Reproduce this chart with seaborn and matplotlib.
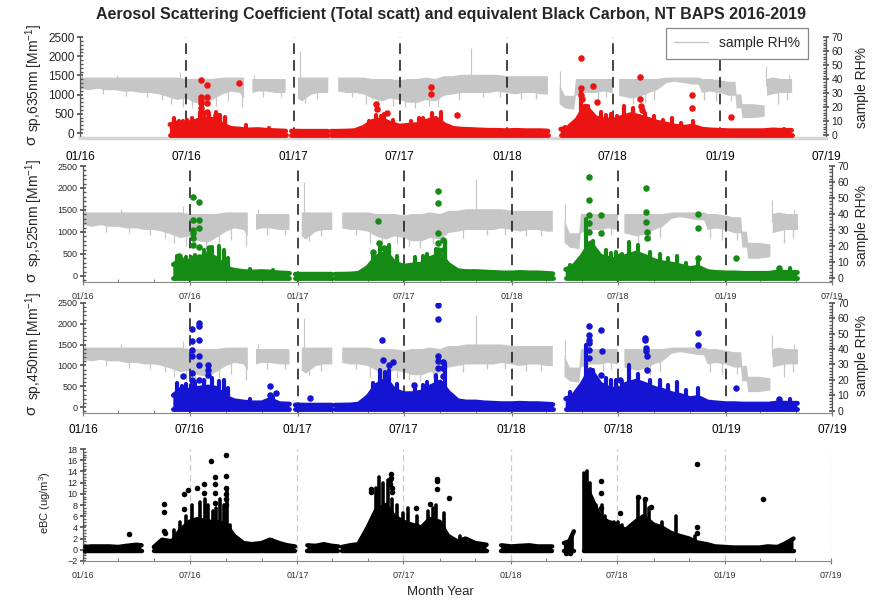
import numpy as np
import pandas as pd
import matplotlib
matplotlib.use('Agg')
import matplotlib.pyplot as plt
import matplotlib.dates as mdates
from matplotlib.ticker import MultipleLocator
from matplotlib.lines import Line2D
import seaborn as sns

sns.set_theme(style='ticks')
plt.rcParams['font.family'] = ['Liberation Sans', 'DejaVu Sans']
plt.rcParams['mathtext.fontset'] = 'custom'
plt.rcParams['mathtext.rm'] = 'Liberation Sans'
plt.rcParams['mathtext.it'] = 'Liberation Sans:italic'
plt.rcParams['mathtext.bf'] = 'Liberation Sans:bold'

nan = np.nan

# ---------------- sample RH% (same series behind the three scattering panels)
rh_dates = [
    '2016-01-03', '2016-01-15', '2016-02-01', '2016-02-15', '2016-03-01', '2016-03-15', '2016-04-01',
    '2016-04-15', '2016-05-01', '2016-05-15', '2016-06-01', '2016-06-15', '2016-07-01', '2016-07-15',
    '2016-08-01', '2016-08-15', '2016-09-01', '2016-09-15', '2016-10-01', '2016-10-08',
    '2016-10-15',
    '2016-10-22', '2016-11-01', '2016-11-15', '2016-12-01', '2016-12-18',
    '2016-12-28',
    '2017-01-08', '2017-01-15', '2017-02-01', '2017-02-15', '2017-03-01',
    '2017-03-10',
    '2017-03-18', '2017-04-01', '2017-04-15', '2017-05-01', '2017-05-15', '2017-06-01', '2017-06-15',
    '2017-07-01', '2017-07-15', '2017-08-01', '2017-08-15', '2017-09-01', '2017-09-15', '2017-10-01',
    '2017-10-15', '2017-11-01', '2017-11-15', '2017-12-01', '2017-12-15', '2018-01-01', '2018-01-15',
    '2018-02-01', '2018-02-15', '2018-03-01', '2018-03-12',
    '2018-03-22',
    '2018-04-01', '2018-04-10', '2018-04-26', '2018-04-29', '2018-05-15', '2018-06-01', '2018-06-15',
    '2018-07-01',
    '2018-07-06',
    '2018-07-12', '2018-08-01', '2018-08-15', '2018-09-01', '2018-09-15', '2018-10-01', '2018-10-15',
    '2018-11-01', '2018-11-15', '2018-11-25', '2018-12-01', '2018-12-15', '2019-01-01', '2019-01-15',
    '2019-01-27', '2019-01-29', '2019-02-06', '2019-02-08', '2019-02-25', '2019-03-18',
    '2019-03-20',
    '2019-03-22', '2019-04-01', '2019-04-15', '2019-05-04',
]
rh_hi = [41, 41, 41, 41, 41, 41, 41, 41, 41, 41, 41, 41, 40, 40, 40, 40, 41, 41, 41, 41,
         nan,
         40, 40, 40, 40, 40,
         nan,
         41, 41, 41, 41, 41,
         nan,
         41, 41, 41, 41, 40, 40, 40, 39, 40, 40, 41, 40, 42, 42, 43, 43, 43, 43, 43, 42, 42, 42, 42, 42, 42,
         nan,
         36, 28, 28, 40, 40, 40, 40, 40,
         nan,
         40, 40, 40, 40, 40, 41, 41, 41, 41, 41, 40, 40, 39, 38, 38, 29, 29, 22, 22, 21,
         nan,
         40, 41, 40, 40]
rh_lo = [33, 32, 33, 32, 32, 31, 31, 30, 30, 29, 27, 25, 26, 23, 22, 25, 29, 31, 30, 26,
         nan,
         30, 31, 31, 30, 30,
         nan,
         26, 24, 29, 30, 30,
         nan,
         31, 30, 30, 29, 26, 24, 26, 25, 23, 23, 25, 24, 28, 29, 30, 30, 30, 30, 31, 30, 29, 30, 30, 29, 29,
         nan,
         22, 19, 18, 28, 30, 30, 31, 30,
         nan,
         28, 26, 27, 30, 32, 37, 38, 37, 36, 36, 30, 31, 30, 28, 28, 19, 19, 12, 12, 13,
         nan,
         28, 29, 30, 30]
rh_spike_dates = ['2016-01-04', '2016-03-05', '2016-06-20', '2016-10-25', '2017-01-12', '2017-11-01',
                  '2018-04-02', '2019-03-20', '2019-04-28']
rh_spike_vals = [44, 43, 45, 43, 60, 62, 46, 49, 43]
rh_dip_dates = ['2016-02-10', '2016-03-20', '2016-04-25', '2016-05-20', '2016-06-05', '2016-06-25',
                '2016-07-10', '2016-07-28', '2016-08-20', '2016-09-10', '2016-10-05', '2016-11-10',
                '2016-12-10', '2017-01-20', '2017-02-10', '2017-04-10', '2017-05-05', '2017-05-25',
                '2017-06-20', '2017-07-10', '2017-07-28', '2017-08-20', '2017-09-05', '2017-10-10',
                '2017-11-20', '2017-12-20', '2018-01-25', '2018-02-20', '2018-05-10', '2018-06-05',
                '2018-06-20', '2018-08-05', '2018-08-25', '2018-09-10', '2018-12-05', '2018-12-25',
                '2019-01-20', '2019-04-10', '2019-04-25']
rh_dip_vals = [29, 28, 27, 25, 22, 20, 19, 18, 21, 24, 20, 27, 27, 23, 26, 27, 22, 20, 21, 20, 19, 21,
               20, 25, 27, 27, 26, 26, 24, 26, 27, 22, 23, 25, 25, 24, 24, 22, 25]

# ---------------- aerosol scattering (dense part: envelope of the point cloud)
scat_dates = [
    '2016-06-03', '2016-06-15', '2016-07-01', '2016-07-15', '2016-08-01', '2016-08-15', '2016-09-01',
    '2016-09-15', '2016-10-01', '2016-10-15', '2016-11-01', '2016-11-15', '2016-12-01', '2016-12-18',
    '2016-12-23',
    '2016-12-28', '2017-01-15', '2017-02-01', '2017-02-15', '2017-02-28',
    '2017-03-03',
    '2017-03-06', '2017-03-15', '2017-04-01', '2017-04-15', '2017-05-01', '2017-05-15', '2017-06-01',
    '2017-06-15', '2017-07-01', '2017-07-15', '2017-08-01', '2017-08-15', '2017-09-01', '2017-09-15',
    '2017-10-01', '2017-10-15', '2017-11-01', '2017-11-15', '2017-12-01', '2017-12-15', '2018-01-01',
    '2018-01-15', '2018-02-01', '2018-02-15', '2018-03-01', '2018-03-12',
    '2018-03-22',
    '2018-04-03', '2018-04-15', '2018-05-01', '2018-05-15', '2018-06-01', '2018-06-15', '2018-07-01',
    '2018-07-15', '2018-08-01', '2018-08-15', '2018-09-01', '2018-09-15', '2018-10-01', '2018-10-15',
    '2018-11-01', '2018-11-15', '2018-12-01', '2018-12-15', '2019-01-01', '2019-01-15', '2019-02-01',
    '2019-02-15', '2019-03-01', '2019-03-15', '2019-04-01', '2019-04-15', '2019-05-03',
]
red_top = [220, 260, 250, 300, 380, 350, 220, 120, 100, 80, 90, 70, 60, 50,
           nan,
           50, 45, 45, 45, 45,
           nan,
           45, 45, 50, 60, 150, 300, 350, 250, 180, 200, 220, 300, 380, 220, 120, 100, 90, 80, 70, 70,
           60, 70, 60, 60, 60, 50,
           nan,
           100, 130, 350, 700, 400, 350, 330, 400, 480, 430, 350, 280, 230, 180, 150, 180, 100, 80, 70,
           60, 60, 60, 60, 60, 80, 70, 70]
green_top = [260, 350, 330, 400, 480, 400, 180, 130, 100, 90, 100, 90, 70, 60,
             nan,
             40, 40, 40, 40, 40,
             nan,
             40, 40, 45, 60, 200, 430, 520, 300, 220, 250, 270, 400, 480, 260, 120, 100, 100, 90, 80, 70,
             70, 80, 70, 70, 60, 50,
             nan,
             150, 200, 450, 750, 450, 400, 350, 450, 520, 450, 350, 300, 270, 230, 170, 200, 100, 80, 70,
             70, 60, 60, 60, 60, 90, 80, 80]
blue_top = [280, 400, 400, 450, 480, 450, 230, 150, 120, 100, 100, 180, 80, 70,
            nan,
            50, 45, 45, 45, 45,
            nan,
            45, 45, 50, 70, 250, 520, 650, 400, 320, 320, 360, 480, 600, 350, 150, 120, 120, 100, 90, 80,
            80, 90, 80, 80, 70, 60,
            nan,
            200, 250, 550, 900, 550, 450, 400, 550, 620, 550, 450, 400, 320, 280, 200, 230, 120, 100, 80,
            80, 70, 70, 70, 70, 100, 90, 90]

# narrow peaks within the dense cloud
spike_dates = ['2016-06-10', '2016-06-18', '2016-06-25', '2016-07-03', '2016-07-10', '2016-07-25',
               '2016-08-08', '2016-08-20', '2016-08-28', '2016-09-05', '2016-10-12', '2016-11-20',
               '2017-05-10', '2017-05-22', '2017-05-30', '2017-06-05', '2017-06-20', '2017-07-20',
               '2017-08-03', '2017-08-10', '2017-08-25', '2017-09-10', '2018-04-10', '2018-05-08',
               '2018-05-20', '2018-06-10', '2018-06-20', '2018-06-28', '2018-07-08', '2018-07-20',
               '2018-08-05', '2018-08-25', '2018-09-10', '2018-09-25', '2018-10-10', '2018-10-25',
               '2018-11-15', '2019-04-20']
red_spikes = [380, 300, 320, 350, 400, 550, 500, 560, 480, 420, 200, 120,
              300, 480, 450, 500, 350, 300, 380, 400, 520, 540, 150, 1100,
              700, 550, 480, 500, 450, 700, 650, 520, 450, 350, 400, 260,
              300, 110]
green_spikes = [450, 380, 420, 420, 480, 600, 650, 680, 600, 400, 150, 130,
                450, 650, 580, 700, 450, 420, 450, 500, 620, 800, 250, 1300,
                800, 600, 520, 550, 500, 780, 700, 550, 500, 400, 450, 300,
                350, 170]
blue_spikes = [580, 500, 560, 520, 600, 650, 700, 620, 640, 450, 200, 250,
               580, 880, 850, 900, 550, 540, 540, 600, 780, 1050, 350, 1500,
               900, 700, 650, 650, 600, 1000, 800, 650, 640, 520, 600, 400,
               450, 200]

# isolated high points
red_out_dates = ['2016-07-26', '2016-07-26', '2016-07-26', '2016-07-26', '2016-07-26', '2016-08-05',
                 '2016-08-05', '2016-08-05', '2016-08-05', '2016-07-29', '2016-08-20', '2016-08-20',
                 '2016-09-30', '2017-05-21', '2017-05-23', '2017-06-10', '2017-08-24', '2017-08-24',
                 '2017-10-08', '2018-05-08', '2018-05-08', '2018-05-08', '2018-05-09', '2018-05-09',
                 '2018-05-28', '2018-06-04', '2018-08-17', '2018-08-17', '2018-08-19', '2018-08-20',
                 '2018-11-14', '2018-11-14', '2019-01-20']
red_out_vals = [1370, 950, 860, 780, 650, 1260, 950, 780, 560, 510, 470, 420,
                1290, 760, 620, 510, 1200, 1020,
                470, 1965, 1170, 1000, 880, 690,
                1220, 820, 1455, 890, 705, 600,
                1000, 645, 405]
green_out_dates = ['2016-06-13', '2016-07-07', '2016-07-07', '2016-07-07', '2016-07-07', '2016-07-07',
                   '2016-07-07', '2016-07-17', '2016-07-17', '2016-07-17', '2016-07-17', '2016-07-16',
                   '2016-08-03', '2016-08-03', '2017-05-18', '2017-05-20', '2017-05-10', '2017-05-28',
                   '2017-08-28', '2017-08-28', '2017-08-28', '2017-08-28', '2017-08-28', '2017-09-05',
                   '2017-09-05', '2018-05-12', '2018-05-12', '2018-05-12', '2018-05-12', '2018-05-12',
                   '2018-06-03', '2018-06-03', '2018-06-02', '2018-07-05', '2018-08-18', '2018-08-18',
                   '2018-08-18', '2018-08-19', '2018-08-20', '2018-11-15', '2018-11-15', '2018-11-15',
                   '2019-01-19', '2019-04-02']
green_out_vals = [455, 1800, 1270, 1045, 970, 855,
                  705, 1690, 1270, 1080, 667, 440,
                  630, 550, 1250, 760, 550, 630,
                  1930, 1665, 985, 740, 590, 820,
                  590, 2260, 1730, 1390, 1210, 1010,
                  1390, 970, 385, 460, 1990, 1460,
                  1235, 1010, 855, 1400, 1080, 400,
                  400, 175]
blue_out_dates = ['2016-06-15', '2016-06-20', '2016-07-05', '2016-07-05', '2016-07-05', '2016-07-05',
                  '2016-07-05', '2016-07-05', '2016-07-16', '2016-07-16', '2016-07-16', '2016-07-16',
                  '2016-07-16', '2016-07-16', '2016-08-01', '2016-08-01', '2016-08-01', '2016-11-15',
                  '2016-11-15', '2016-11-25', '2017-01-22', '2017-05-25', '2017-05-27', '2017-06-05',
                  '2017-06-12', '2017-07-18', '2017-08-28', '2017-08-28', '2017-08-28', '2017-08-28',
                  '2017-08-28', '2017-09-06', '2017-09-06', '2017-09-06', '2018-05-12', '2018-05-12',
                  '2018-05-12', '2018-05-13', '2018-05-13', '2018-05-13', '2018-05-14', '2018-06-03',
                  '2018-06-04', '2018-06-02', '2018-07-05', '2018-08-17', '2018-08-17', '2018-08-18',
                  '2018-08-18', '2018-08-19', '2018-08-19', '2018-11-14', '2018-11-14', '2019-01-19',
                  '2019-04-02']
blue_out_vals = [420, 740, 1880, 1580, 1380, 1220,
                 820, 655, 2020, 1940, 1620, 1220,
                 1020, 655, 1020, 900, 780, 500,
                 300, 340, 215, 1600, 1130, 1000,
                 1080, 520, 2440, 2115, 1220, 1100,
                 940, 1075, 940, 740, 1940, 1740,
                 1620, 1540, 1380, 1180, 860, 1840,
                 1340, 780, 640, 1660, 1620, 1420,
                 1340, 1220, 900, 1780, 1500, 450,
                 200]

# ---------------- equivalent black carbon
ebc_dates = [
    '2016-01-05', '2016-01-15', '2016-02-01', '2016-02-15', '2016-03-01', '2016-03-15', '2016-04-01', '2016-04-10',
    '2016-04-20',
    '2016-05-01', '2016-05-15', '2016-06-01', '2016-06-15', '2016-07-01', '2016-07-15', '2016-08-01',
    '2016-08-15', '2016-09-01', '2016-09-15', '2016-10-01', '2016-10-15', '2016-11-01', '2016-11-15',
    '2016-12-01', '2016-12-15', '2016-12-28',
    '2017-01-08',
    '2017-01-18', '2017-02-01', '2017-02-15', '2017-03-01', '2017-03-12',
    '2017-03-15',
    '2017-03-18', '2017-04-01', '2017-04-15', '2017-05-01', '2017-05-15', '2017-06-01', '2017-06-15',
    '2017-07-01', '2017-07-15', '2017-08-01', '2017-08-15', '2017-09-01', '2017-09-15', '2017-10-01',
    '2017-10-15', '2017-11-01', '2017-11-20',
    '2017-12-01',
    '2017-12-15', '2018-01-01', '2018-01-15', '2018-02-01', '2018-02-15', '2018-03-01', '2018-03-12',
    '2018-03-20',
    '2018-04-01', '2018-04-10', '2018-04-18',
    '2018-04-28',
    '2018-05-06', '2018-05-15', '2018-06-01', '2018-06-15', '2018-07-01', '2018-07-15', '2018-08-01',
    '2018-08-15', '2018-09-01', '2018-09-15', '2018-10-01', '2018-10-15', '2018-11-01', '2018-11-15',
    '2018-12-01', '2018-12-15', '2019-01-01', '2019-01-15', '2019-02-01', '2019-02-15', '2019-03-01',
    '2019-03-15', '2019-04-01', '2019-04-15', '2019-04-28',
]
ebc_top = [0.5, 0.6, 0.6, 0.6, 0.5, 0.7, 0.9, 0.8,
           nan,
           0.5, 1.8, 1.5, 3.5, 5, 5.5, 5, 5, 4.5, 2.5, 1.2, 1.0, 1.2, 1.8, 1.2, 0.8, 0.6,
           nan,
           0.8, 0.7, 1.0, 0.7, 0.6,
           nan,
           0.5, 0.8, 1.0, 4, 7, 8, 6, 5, 4.5, 4, 5.5, 5, 2.5, 1.5, 2.0, 1.2, 0.9,
           nan,
           0.8, 0.6, 0.7, 0.8, 0.6, 0.6, 0.6,
           nan,
           1.2, 1.5, 3.3,
           nan,
           12, 10, 6, 5, 4.5, 3.5, 5, 6, 4.5, 4, 3, 2.5, 2, 1.3, 1.0, 0.6, 0.5, 0.4, 0.4, 0.4, 0.4, 0.6,
           0.5, 1.2, 2.0]
ebc_spike_dates = ['2016-06-05', '2016-06-15', '2016-06-25', '2016-07-05', '2016-07-18', '2016-07-28',
                   '2016-08-01', '2016-08-10', '2016-08-15', '2016-08-22', '2016-08-28', '2016-09-03',
                   '2016-09-08', '2016-09-15', '2016-11-18', '2017-05-10', '2017-05-15', '2017-05-20',
                   '2017-05-28', '2017-06-05', '2017-06-12', '2017-06-20', '2017-07-01', '2017-07-08',
                   '2017-07-25', '2017-08-12', '2017-08-20', '2017-08-25', '2017-09-08', '2017-10-05',
                   '2018-05-06', '2018-05-10', '2018-05-16', '2018-05-25', '2018-06-05', '2018-06-10',
                   '2018-06-25', '2018-07-03', '2018-07-10', '2018-08-05', '2018-08-18', '2018-08-25',
                   '2018-09-15', '2018-10-10', '2018-11-10']
ebc_spike_vals = [3.5, 5, 6, 8, 8.5, 9,
                  8, 7, 7.5, 9, 8, 11,
                  4.5, 2.7, 1.8, 6, 11, 13,
                  12, 12.5, 9, 8, 6.5, 7.4,
                  6, 7, 7.5, 8, 6.5, 2.5,
                  13.8, 14, 12, 8, 8, 6,
                  5, 5, 4.5, 9.5, 9, 7.5,
                  5, 6, 2.5]
ebc_out_dates = ['2016-03-19', '2016-05-19', '2016-05-19', '2016-05-19', '2016-05-20', '2016-06-22',
                 '2016-06-22', '2016-06-28', '2016-07-13', '2016-07-25', '2016-07-25', '2016-08-07',
                 '2016-08-13', '2016-08-13', '2016-08-13', '2016-08-13', '2016-09-01', '2016-09-01',
                 '2016-09-01', '2016-09-01', '2016-09-01', '2016-09-01', '2017-05-07', '2017-05-07',
                 '2017-06-10', '2017-06-10', '2017-06-08', '2017-06-08', '2017-06-12', '2017-06-12',
                 '2017-07-22', '2017-08-16', '2017-08-28', '2017-08-28', '2017-08-28', '2017-09-16',
                 '2018-04-05', '2018-04-12', '2018-06-03', '2018-06-03', '2018-06-03', '2018-07-05',
                 '2018-08-06', '2018-08-17', '2018-08-27', '2018-11-14', '2018-11-14', '2018-11-14',
                 '2019-03-07']
ebc_out_vals = [2.9, 8.1, 6.8, 3.3, 3.0, 10.0,
                7.3, 10.7, 11.0, 11.8, 10.2, 15.8,
                13.0, 11.7, 10.2, 8.3, 16.9, 13.1,
                11.0, 10.0, 9.0, 8.0, 10.9, 10.3,
                13.5, 12.8, 12.5, 11.8, 11.0, 10.4,
                7.4, 8.2, 12.6, 12.2, 10.9, 9.3,
                -0.5, -0.6, 12.3, 10.2, 7.5, 6.5,
                9.5, 9.0, 7.6, 15.3, 4.0, 3.0,
                9.1]

# ---------------- labels
title = 'Aerosol Scattering Coefficient (Total scatt) and equivalent Black Carbon, NT BAPS 2016-2019'
guide_dates = ['2016-07-01', '2017-01-01', '2017-07-01', '2018-01-01', '2018-07-01', '2019-01-01']
x_range = ['2016-01-01', '2019-07-01']
wavelengths = ['635nm', '525nm', '450nm']

GRAY = '#c6c6c6'
RED, GREEN, BLUE = '#ec1313', '#158a15', '#1414d2'

W, H = 877, 600
fig = plt.figure(figsize=(W / 100, H / 100), dpi=100)


def add_ax(l, t, r, b):
    return fig.add_axes([l / W, 1 - b / H, (r - l) / W, (b - t) / H])


def style_x(ax, fs, color, pad, ticklen):
    ax.set_xlim(pd.to_datetime(x_range))
    ax.xaxis.set_major_locator(mdates.MonthLocator(bymonth=[1, 7]))
    ax.xaxis.set_major_formatter(mdates.DateFormatter('%m/%y'))
    ax.xaxis.set_minor_locator(mdates.MonthLocator(bymonth=[3, 5, 9, 11]))
    ax.tick_params(axis='x', which='major', labelsize=fs, labelcolor=color, pad=pad,
                   length=ticklen, color='#777777', direction='inout', width=0.8)
    ax.tick_params(axis='x', which='minor', length=ticklen * 0.6, color='#777777', direction='in', width=0.7)


def scat_panel(rect, top, spikes, od, ov, color, ylim, rhlim, xfs, xcol, xpad, yfs, ticklen, first=False):
    ax = add_ax(*rect)
    ax2 = ax.twinx()
    ax.set_zorder(ax2.get_zorder() + 1)
    ax.patch.set_visible(False)
    # RH background
    rt = pd.to_datetime(rh_dates)
    ax2.fill_between(rt, rh_lo, rh_hi, color=GRAY, lw=0, zorder=1)
    ax2.vlines(pd.to_datetime(rh_spike_dates), 35, rh_spike_vals, colors=GRAY, lw=0.8, zorder=1)
    ax2.vlines(pd.to_datetime(rh_dip_dates), rh_dip_vals, 35, colors=GRAY, lw=0.9, zorder=1)
    for d in pd.to_datetime(guide_dates):
        ax2.axvline(d, color='#111111', ls=(0, (7, 4)), lw=1.1, zorder=2)
    ax2.set_ylim(rhlim)
    ax2.set_yticks(range(0, 71, 10))
    ax2.yaxis.set_minor_locator(MultipleLocator(2))
    ax2.tick_params(axis='y', which='major', labelsize=7.5, length=4, direction='inout', color='#555555', pad=2)
    ax2.tick_params(axis='y', which='minor', length=2.5, direction='in', color='#555555')
    # scattering coefficient
    t = pd.to_datetime(scat_dates)
    floor = np.where(np.isnan(np.array(top, dtype=float)), np.nan, -50.0)
    ax.fill_between(t, floor, top, color=color, lw=0, zorder=3)
    ax.plot(t, top, color=color, lw=3.5, solid_joinstyle='round', solid_capstyle='round', zorder=3)
    ax.plot(t, floor, color=color, lw=3.5, solid_capstyle='round', zorder=3)
    ax.vlines(pd.to_datetime(spike_dates), -50, spikes, colors=color, lw=3, capstyle='round', zorder=3)
    sns.scatterplot(x=pd.to_datetime(od), y=ov, ax=ax, color=color, s=22, linewidth=0,
                    legend=False, zorder=4)
    ax.set_ylim(ylim)
    ax.set_yticks(range(0, 2501, 500))
    ax.yaxis.set_minor_locator(MultipleLocator(100))
    ax.tick_params(axis='y', which='major', labelsize=yfs, length=4, direction='inout', color='#555555', pad=2)
    ax.tick_params(axis='y', which='minor', length=2.5, direction='in', color='#555555')
    style_x(ax, xfs, xcol, xpad, ticklen)
    for a in (ax, ax2):
        a.spines['top'].set_visible(False)
    ax.spines['right'].set_visible(False)
    ax2.spines['left'].set_visible(False)
    ax2.spines['bottom'].set_visible(False)
    ax.spines['left'].set_color('#555555')
    ax.spines['left'].set_linewidth(0.9)
    ax2.spines['right'].set_color('#555555')
    ax2.spines['right'].set_linewidth(0.9)
    if first:
        ax.spines['bottom'].set_color('#d6d6d6')
        ax.spines['bottom'].set_linewidth(2.5)
    else:
        ax.spines['bottom'].set_color('#888888')
        ax.spines['bottom'].set_linewidth(0.8)
    ax.set_xlabel('')
    ax.set_ylabel('')
    ax2.set_ylabel('')
    return ax, ax2


ax1, ax1r = scat_panel((80, 37, 826, 138), red_top, red_spikes, red_out_dates, red_out_vals, RED,
                       (-130, 2500), (-2.2, 70), 8.5, 'black', 9, 8.5, 0, first=True)
ax2_, ax2r = scat_panel((83, 166, 832, 282), green_top, green_spikes, green_out_dates, green_out_vals, GREEN,
                        (-137, 2500), (-2.5, 70), 6.5, '#333333', 5, 6.5, 4)
ax3, ax3r = scat_panel((83, 303, 832, 413), blue_top, blue_spikes, blue_out_dates, blue_out_vals, BLUE,
                       (-144, 2500), (-1.6, 70), 8.5, 'black', 6, 6.5, 4)

# legend in first panel
leg = ax1.legend(handles=[Line2D([0], [0], color=GRAY, lw=1)], labels=['sample RH%'],
                 bbox_to_anchor=(808 / W, 1 - 28 / H), bbox_transform=fig.transFigure,
                 loc='upper right', fancybox=False, edgecolor='#8a8a8a', framealpha=1,
                 fontsize=10, handlelength=2.4, borderpad=0.6, handletextpad=0.8, borderaxespad=0)
leg.get_frame().set_linewidth(0.9)

# eBC panel
ax4 = add_ax(83, 449, 831, 561)
et = pd.to_datetime(ebc_dates)
efloor = np.where(np.isnan(np.array(ebc_top, dtype=float)), np.nan, -0.25)
ax4.fill_between(et, efloor, ebc_top, color='black', lw=0, zorder=3)
ax4.plot(et, ebc_top, color='black', lw=3.2, solid_joinstyle='round', solid_capstyle='round', zorder=3)
ax4.plot(et, efloor, color='black', lw=3.2, solid_capstyle='round', zorder=3)
ax4.vlines(pd.to_datetime(ebc_spike_dates), -0.25, ebc_spike_vals, colors='black', lw=2.6,
           capstyle='round', zorder=3)
sns.scatterplot(x=pd.to_datetime(ebc_out_dates), y=ebc_out_vals, ax=ax4, color='black', s=16,
                linewidth=0, legend=False, zorder=4)
for d in pd.to_datetime(guide_dates + ['2019-07-01']):
    ax4.axvline(d, color='#c8c8c8', ls=(0, (5, 3)), lw=0.9, zorder=1)
ax4.set_ylim(-2, 18)
ax4.set_yticks(range(-2, 19, 2))
ax4.yaxis.set_minor_locator(MultipleLocator(0.5))
ax4.tick_params(axis='y', which='major', labelsize=6.5, length=4, direction='inout', color='#555555', pad=2)
ax4.tick_params(axis='y', which='minor', length=2, direction='in', color='#555555')
style_x(ax4, 6.5, '#333333', 5, 4)
ax4.spines['top'].set_visible(False)
ax4.spines['right'].set_visible(False)
ax4.spines['left'].set_color('#555555')
ax4.spines['left'].set_linewidth(0.9)
ax4.spines['bottom'].set_color('#888888')
ax4.spines['bottom'].set_linewidth(0.8)
ax4.set_xlabel('')
ax4.set_ylabel('')

# texts
fig.text(451 / W, 1 - 15 / H, title, ha='center', va='center', fontsize=11.5, fontweight='bold')
for wl, ysig, yrest in zip(wavelengths, [140, 277, 410], [78, 213, 346]):
    fig.text(31 / W, 1 - ysig / H, 'σ', rotation=90, ha='center', va='center', fontsize=11)
    fig.text(34 / W, 1 - yrest / H, 'sp,' + wl + ' [Mm$^{-1}$]', rotation=90, ha='center', va='center',
             fontsize=10)
for yc in [87, 225, 356]:
    fig.text(862 / W, 1 - yc / H, 'sample RH%', rotation=90, ha='center', va='center', fontsize=10)
fig.text(45 / W, 1 - 503 / H, 'eBC (ug/m$^3$)', rotation=90, ha='center', va='center', fontsize=8)
fig.text(440 / W, 1 - 592 / H, 'Month Year', ha='center', va='center', fontsize=9.5)

fig.savefig('out.png', dpi=100)
